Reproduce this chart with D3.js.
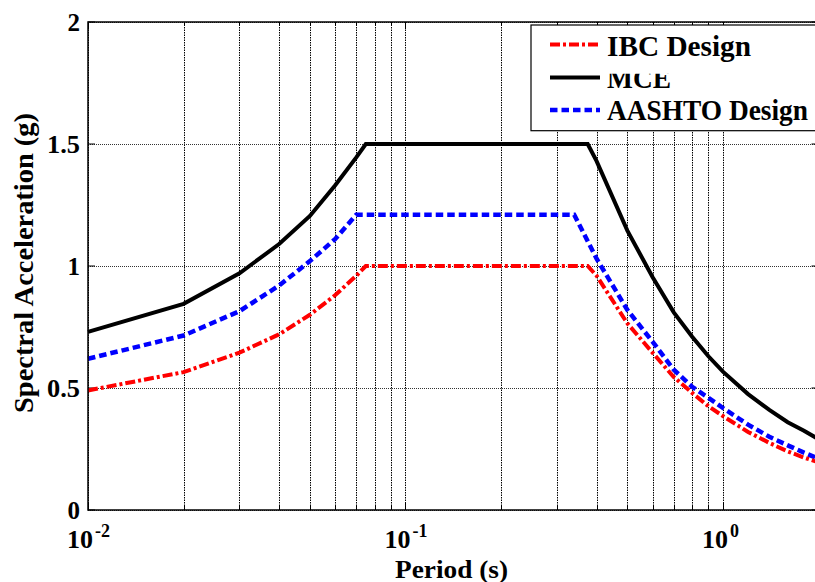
<!DOCTYPE html>
<html>
<head>
<meta charset="utf-8">
<script src="https://cdn.jsdelivr.net/npm/d3@7"></script>
<style>
  html, body { margin: 0; padding: 0; background: #fff; overflow: hidden; }
  svg { display: block; }
  text { font-family: "Liberation Serif", "Times New Roman", serif; font-weight: bold; fill: #000; }
</style>
</head>
<body>
<svg id="chart" width="815" height="582"></svg>
<script>
// ---------------- data ----------------
const seriesNames = ["IBC Design", "MCE", "AASHTO Design"];

const ibcPeriods = [0.01, 0.02, 0.03, 0.04, 0.05, 0.06, 0.07, 0.075, 0.375, 0.4, 0.5, 0.6, 0.7, 0.8, 0.9, 1.0, 1.2, 1.4, 1.6, 1.8, 2.0];
const ibcValues  = [0.49, 0.565, 0.645, 0.72, 0.80, 0.88, 0.96, 1.0, 1.0, 0.96, 0.765, 0.645, 0.545, 0.48, 0.425, 0.385, 0.32, 0.275, 0.24, 0.215, 0.195];

const mcePeriods = [0.01, 0.02, 0.03, 0.04, 0.05, 0.06, 0.07, 0.075, 0.375, 0.4, 0.5, 0.6, 0.7, 0.8, 0.9, 1.0, 1.2, 1.4, 1.6, 1.8, 2.0];
const mceValues  = [0.73, 0.845, 0.97, 1.09, 1.205, 1.33, 1.445, 1.5, 1.5, 1.43, 1.145, 0.955, 0.81, 0.71, 0.63, 0.567, 0.475, 0.41, 0.36, 0.325, 0.29];

const aashtoPeriods = [0.01, 0.02, 0.03, 0.04, 0.05, 0.06, 0.07, 0.34, 0.4, 0.5, 0.6, 0.7, 0.8, 0.9, 1.0, 1.2, 1.4, 1.6, 1.8, 2.0];
const aashtoValues  = [0.62, 0.715, 0.815, 0.92, 1.02, 1.11, 1.21, 1.21, 1.03, 0.82, 0.69, 0.575, 0.505, 0.46, 0.418, 0.35, 0.30, 0.265, 0.235, 0.21];

const xMajorTicks = [0.01, 0.1, 1];
const xTickExponents = ["-2", "-1", "0"];
const xMinorTicks = [0.02,0.03,0.04,0.05,0.06,0.07,0.08,0.09,0.2,0.3,0.4,0.5,0.6,0.7,0.8,0.9,2];
const yTicks = [0, 0.5, 1, 1.5, 2];
const yTickLabels = ["0", "0.5", "1", "1.5", "2"];

const xTitle = "Period (s)";
const yTitle = "Spectral Acceleration (g)";

// ---------------- layout ----------------
const svg = d3.select("#chart");
const L = 88, T = 22, B = 510, R = 818.5;

const x = d3.scaleLog().domain([0.01, 2]).range([L, R]);
const y = d3.scaleLinear().domain([0, 2]).range([B, T]);

// grid
const grid = svg.append("g");
grid.selectAll("line.v").data(xMajorTicks.concat(xMinorTicks)).join("line")
  .attr("x1", d => Math.round(x(d)) + 0.5).attr("x2", d => Math.round(x(d)) + 0.5)
  .attr("y1", T).attr("y2", B)
  .attr("stroke", "#000").attr("stroke-width", 1).attr("stroke-dasharray", "1.5,1");
grid.selectAll("line.h").data(yTicks).join("line")
  .attr("x1", L).attr("x2", R)
  .attr("y1", d => Math.round(y(d)) + 0.5).attr("y2", d => Math.round(y(d)) + 0.5)
  .attr("stroke", "#333").attr("stroke-width", 1).attr("stroke-dasharray", "1,1");

// tick marks (inside)
const tk = svg.append("g").attr("stroke", "#000").attr("stroke-width", 1);
xMajorTicks.concat(xMinorTicks).forEach(d => {
  const len = xMajorTicks.includes(d) ? 7 : 4;
  const xx = Math.round(x(d)) + 0.5;
  tk.append("line").attr("x1", xx).attr("x2", xx).attr("y1", B).attr("y2", B - len);
  tk.append("line").attr("x1", xx).attr("x2", xx).attr("y1", T).attr("y2", T + len);
});
yTicks.forEach(d => {
  tk.append("line").attr("x1", L).attr("x2", L + 7).attr("y1", y(d)).attr("y2", y(d));
  tk.append("line").attr("x1", R).attr("x2", R - 7).attr("y1", y(d)).attr("y2", y(d));
});

// curves
const line = d3.line().x(d => x(d[0])).y(d => y(d[1]));
const curves = [
  { p: mcePeriods, v: mceValues, color: "#000", w: 4, dash: null },
  { p: aashtoPeriods, v: aashtoValues, color: "#0000ff", w: 4.5, dash: "7.5,4" },
  { p: ibcPeriods, v: ibcValues, color: "#ff0000", w: 4, dash: "10,3,3,3" }
];
curves.forEach(c => {
  svg.append("path")
    .datum(c.p.map((t, i) => [t, c.v[i]]))
    .attr("d", line)
    .attr("fill", "none")
    .attr("stroke", c.color)
    .attr("stroke-width", c.w)
    .attr("stroke-linejoin", "miter")
    .attr("stroke-dasharray", c.dash);
});

// axes box
svg.append("rect").attr("x", L).attr("y", T).attr("width", R - L).attr("height", B - T)
  .attr("fill", "none").attr("stroke", "#000").attr("stroke-width", 1.5);

// y tick labels
svg.selectAll("text.yt").data(yTicks).join("text")
  .attr("class", "yt")
  .attr("x", 80).attr("y", d => y(d) + 9)
  .attr("text-anchor", "end")
  .style("font-size", "25px")
  .each(function(d, i) {
    const s = d3.select(this).text(yTickLabels[i]);
    if (yTickLabels[i].length > 1) s.attr("textLength", 33).attr("lengthAdjust", "spacingAndGlyphs");
  });

// x tick labels (10^n)
xMajorTicks.forEach((d, i) => {
  const cx = x(d);
  svg.append("text").attr("x", cx - 21).attr("y", 548)
    .style("font-size", "26px")
    .attr("textLength", 26).attr("lengthAdjust", "spacingAndGlyphs")
    .text("10");
  svg.append("text").attr("x", cx + 7).attr("y", 537)
    .style("font-size", "18px")
    .text(xTickExponents[i]);
});

// axis titles
svg.append("text").attr("x", 395).attr("y", 578)
  .style("font-size", "25px")
  .attr("textLength", 113).attr("lengthAdjust", "spacingAndGlyphs")
  .text(xTitle);
svg.append("text")
  .attr("transform", "translate(33,263) rotate(-90)")
  .attr("text-anchor", "middle")
  .style("font-size", "28px")
  .attr("textLength", 300).attr("lengthAdjust", "spacingAndGlyphs")
  .text(yTitle);

// legend
const lg = svg.append("g");
lg.append("rect").attr("x", 531).attr("y", 25).attr("width", 300).attr("height", 105.7)
  .attr("fill", "#fff").attr("stroke", "#000").attr("stroke-width", 1.2);
const legendStyles = [
  { color: "#ff0000", w: 4, dash: "10,3,3,3", ly: 44.5, ty: 55.7, tl: 144 },
  { color: "#000", w: 4, dash: null, ly: 77.5, ty: 87.5, tl: 64 },
  { color: "#0000ff", w: 4.5, dash: "7.5,4", ly: 110, ty: 120, tl: 201 }
];
const defs = svg.append("defs");
defs.append("clipPath").attr("id", "mceclip").append("rect")
  .attr("x", 600).attr("y", 73.8).attr("width", 200).attr("height", 40);
seriesNames.forEach((name, i) => {
  const s = legendStyles[i];
  lg.append("line").attr("x1", 550).attr("x2", 600).attr("y1", s.ly).attr("y2", s.ly)
    .attr("stroke", s.color).attr("stroke-width", s.w).attr("stroke-dasharray", s.dash);
  const t = lg.append("text").attr("x", 607).attr("y", s.ty)
    .style("font-size", "29px")
    .attr("textLength", s.tl).attr("lengthAdjust", "spacingAndGlyphs")
    .text(name);
  if (i === 1) t.attr("clip-path", "url(#mceclip)");
});
</script>
</body>
</html>
